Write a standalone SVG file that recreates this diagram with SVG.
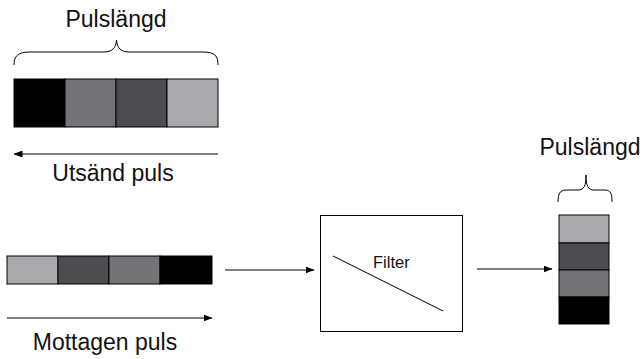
<svg xmlns="http://www.w3.org/2000/svg" width="644" height="359" viewBox="0 0 644 359">
  <defs>
    <marker id="head" markerWidth="9" markerHeight="7" refX="8.5" refY="3.5" orient="auto" markerUnits="userSpaceOnUse">
      <path d="M0,0 L9,3.5 L0,7 Z" fill="#000"/>
    </marker>
    <style>
      .lbl { font-family: "Liberation Sans", Arial, sans-serif; font-size: 23px; fill: #111; text-anchor: middle; }
      .small { font-family: "Liberation Sans", Arial, sans-serif; font-size: 16.5px; fill: #111; }
      .cell { stroke: #000; stroke-width: 1; }
      .c0 { fill: #000; }
      .c1 { fill: #737477; }
      .c2 { fill: #4c4d51; }
      .c3 { fill: #a7a9ac; }
      .brace { fill: none; stroke: #000; stroke-width: 1; }
      .conn { stroke: #000; stroke-width: 1; fill: none; marker-end: url(#head); }
    </style>
  </defs>

  <rect width="644" height="359" fill="#fff"/>

  <!-- transmitted pulse -->
  <g id="sent">
    <text class="lbl" x="116" y="27">Pulslängd</text>
    <path class="brace" d="M14,65 C14,56 18,52 30,52 L104,52 C112,52 116,48 116.5,40 C117,48 121,52 129,52 L203,52 C215,52 218,56 218,65"/>
    <rect class="cell c0" x="14" y="79" width="51" height="48"/>
    <rect class="cell c1" x="65" y="79" width="51" height="48"/>
    <rect class="cell c2" x="116" y="79" width="51" height="48"/>
    <rect class="cell c3" x="167" y="79" width="51" height="48"/>
    <text class="lbl" x="113" y="181">Utsänd puls</text>
  </g>

  <!-- received pulse -->
  <g id="received">
    <rect class="cell c3" x="7" y="256" width="51" height="28"/>
    <rect class="cell c2" x="58" y="256" width="51" height="28"/>
    <rect class="cell c1" x="109" y="256" width="51" height="28"/>
    <rect class="cell c0" x="160" y="256" width="52" height="28"/>
    <text class="lbl" x="105" y="350">Mottagen puls</text>
  </g>

  <!-- matched filter -->
  <g id="filter">
    <rect x="320.5" y="215.5" width="142" height="116" fill="#fff" stroke="#000" stroke-width="1"/>
    <line x1="333" y1="256" x2="443" y2="311" stroke="#000" stroke-width="1"/>
    <text class="small" x="373" y="268">Filter</text>
  </g>

  <!-- compressed pulse -->
  <g id="compressed">
    <text class="lbl" x="590" y="155">Pulslängd</text>
    <path class="brace" d="M558,202 C558,194 560,190 566,190 L578,190 C584,190 586,186 586,175 C586,186 588,190 594,190 L605,190 C611,190 612,194 612,202"/>
    <rect class="cell c3" x="559" y="215" width="50" height="28"/>
    <rect class="cell c2" x="559" y="243" width="50" height="27"/>
    <rect class="cell c1" x="559" y="270" width="50" height="27"/>
    <rect class="cell c0" x="559" y="297" width="50" height="27"/>
  </g>

  <g id="connectors">
    <line class="conn" x1="218" y1="154" x2="14" y2="154"/>
    <line class="conn" x1="7" y1="318" x2="212" y2="318"/>
    <line class="conn" x1="225" y1="270" x2="314" y2="270"/>
    <line class="conn" x1="477" y1="269" x2="552" y2="269"/>
  </g>
</svg>
